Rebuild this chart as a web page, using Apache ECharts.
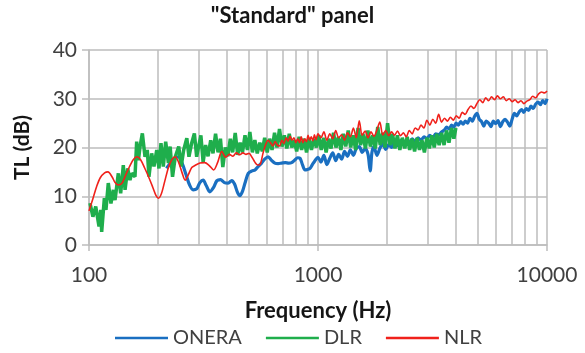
<!DOCTYPE html>
<html>
<head>
<meta charset="utf-8">
<script src="https://cdn.jsdelivr.net/npm/echarts@6/dist/echarts.min.js"></script>
<style>
  html, body { margin: 0; padding: 0; background: #ffffff; }
  #chart { width: 585px; height: 353px; }
</style>
</head>
<body>
<div id="chart"></div>
<script>
// Transmission loss of the "Standard" panel measured by three labs.
const oneraFreq = [
  218, 225, 235, 245, 255, 265, 275, 285, 295, 305, 315, 325, 337, 350, 362, 375, 390, 405, 420, 432,
  445, 456, 468, 480, 496, 515, 531, 550, 567, 585, 606, 625, 648, 670, 694, 720, 745, 767, 790, 815,
  835, 855, 877, 900, 922, 945, 970, 1000,
  1030, 1061, 1093, 1126, 1160, 1195, 1231, 1268, 1306, 1345, 1385, 1427, 1470, 1514, 1559, 1606, 1654, 1690,
  1720, 1755, 1808, 1862, 1918, 1976, 2035, 2096, 2159, 2224, 2291, 2360, 2430, 2503, 2578, 2656, 2735, 2817,
  2902, 2989, 3079, 3171, 3266, 3364, 3465,
  3566, 3650, 3740, 3830, 3920, 4010, 4100, 4200, 4300, 4400, 4500, 4610, 4720, 4830, 4940, 5060, 5180, 5300,
  5430, 5560, 5690, 5830, 5970, 6110, 6260, 6410, 6560, 6720, 6880, 7040, 7210, 7380, 7560, 7740, 7920, 8110,
  8310, 8510, 8710, 8920, 9140, 9360, 9580, 9810, 10000
];
const oneraTL = [
  15.7, 16.6, 17.6, 18.1, 16.8, 14.5, 12.3, 11.3, 11.5, 12.8, 13.3, 12.2, 10.9, 11.8, 13.2, 13.4, 12.8, 12.7, 13.2, 12.5,
  10.8, 10.1, 11.0, 12.7, 14.7, 15.2, 15.4, 16.2, 16.8, 17.6, 18.1, 17.4, 16.8, 16.7, 16.8, 16.9, 16.8, 16.9, 17.4, 17.9,
  17.8, 16.5, 15.4, 15.5, 15.7, 16.5, 17.3, 18.0,
  17.0, 18.4, 16.5, 17.8, 18.9, 17.3, 18.6, 17.6, 19.2, 18.2, 19.5, 18.4, 19.8, 20.2, 19.0, 19.8, 18.6, 15.2,
  19.0, 20.2, 18.4, 19.8, 20.8, 19.6, 20.6, 20.0, 21.2, 20.4, 21.4, 20.8, 21.5, 21.0, 21.8, 21.2, 22.0, 21.5,
  22.2, 21.8, 22.5, 22.0, 22.8, 22.6, 23.2,
  23.6, 24.2, 23.8, 24.6, 24.2, 25.0, 24.6, 25.3, 24.8, 25.4, 25.0, 26.0, 25.4, 26.4, 27.0, 25.8, 25.3, 24.4,
  25.4, 25.0, 24.3, 25.4, 24.9, 25.5, 24.3, 25.3, 25.8, 25.2, 24.4, 25.8, 27.0, 26.5, 27.3, 27.8, 27.2, 28.0,
  27.6, 28.5, 28.0, 28.9, 29.3, 28.8, 29.6, 29.0, 30.0
];

const dlrFreq = [
  101, 104, 107, 110.6, 112.5, 113.6, 116.7, 118.6, 121.4, 124.7, 127.7, 129.9, 134.3, 137.5, 141.2, 143.7,
  147.5, 151, 153.6, 158.8, 161.5, 164.3, 167.1, 171, 175.6, 179.7, 182.7, 187.8, 192.2, 197.6, 202.1, 206.2,
  211.1, 216.2, 222.2, 226.1, 231.6, 238.1, 246.5, 252.6, 259.1, 267.4, 273.2, 280.7, 288.5, 295.2,
  300, 308, 315, 323, 331, 340, 348, 357, 366, 375, 384, 394, 404, 414, 424, 435, 446, 457, 468, 480,
  492, 504, 517, 530, 543, 557, 571, 585, 600, 615, 630, 646, 662, 679, 696, 713, 731, 749, 768, 787,
  807, 827, 848, 869, 891, 913, 936, 960, 984,
  1008, 1033, 1059, 1085, 1112, 1140, 1169, 1198, 1228, 1259, 1290, 1322, 1355, 1389, 1424, 1460, 1496, 1534,
  1572, 1611, 1652, 1693, 1735, 1779, 1823, 1869, 1916, 1964, 2013, 2063, 2115, 2168, 2222, 2277, 2334, 2393,
  2452, 2514, 2577, 2641, 2707, 2775, 2844, 2915, 2988, 3063, 3140, 3218, 3299, 3381, 3466, 3552, 3641, 3732,
  3826, 3921, 4000
];
const dlrTL = [
  8.6, 5.8, 7.9, 3.8, 7.2, 2.7, 9.6, 7.2, 12.7, 8.5, 11.3, 9.2, 14.7, 10.6, 16.4, 11.3,
  15.7, 13.3, 14.7, 14.0, 21.2, 17.4, 20.2, 22.9, 18.1, 19.5, 14.0, 18.8, 16.1, 19.5, 15.7, 20.9,
  16.1, 21.2, 16.8, 20.2, 14.0, 18.1, 20.2, 16.1, 19.5, 21.9, 18.1, 20.9, 22.9, 18.1,
  18.5, 22.5, 17.0, 20.5, 18.2, 21.5, 18.8, 22.8, 19.0, 21.8, 16.0, 20.0, 18.2, 21.8, 19.0, 23.0, 18.5, 21.0, 19.0, 22.5,
  19.5, 23.2, 19.0, 21.5, 18.8, 21.0, 19.2, 22.0, 19.0, 21.8, 19.5, 23.0, 20.0, 23.8, 20.2, 22.5, 19.8, 22.8, 20.0, 21.5,
  19.2, 22.2, 19.5, 21.8, 19.0, 22.0, 19.5, 21.8, 20.0,
  22.5, 19.5, 22.0, 19.0, 21.8, 19.8, 23.0, 20.0, 22.2, 19.5, 22.8, 20.2, 23.5, 20.0, 22.5, 19.5, 24.0, 20.5,
  22.8, 19.8, 23.5, 20.2, 22.5, 19.8, 24.2, 20.5, 23.0, 20.0, 25.0, 20.5, 22.8, 19.8, 22.5, 19.5, 22.0, 19.8,
  22.2, 19.5, 21.8, 19.2, 22.0, 19.5, 21.5, 19.0, 22.0, 19.8, 22.5, 20.0, 22.8, 20.5, 23.0, 20.5, 23.5, 21.0,
  24.0, 21.8, 24.0
];

const nlrFreq = [
  100, 104, 108, 112, 117, 121, 126, 130, 134, 139, 145, 150, 156, 162, 168, 175, 182, 190, 196, 201,
  207, 214, 222, 230, 238, 246, 255, 263, 272, 281,
  290, 305, 320, 335, 350, 365, 380, 395, 410, 425, 440, 455, 470, 485, 500, 515, 530, 545, 560, 575,
  590, 605, 620, 635, 650, 665, 680, 695, 710, 725, 740, 755, 770, 785, 800, 815, 830, 845, 860, 875,
  890, 905, 920, 935, 950, 965, 980, 1000,
  1030, 1061, 1093, 1126, 1160, 1195, 1231, 1268, 1306, 1345, 1385, 1427, 1470, 1514, 1559, 1606, 1654, 1704,
  1755, 1808, 1862, 1918, 1976, 2035, 2096, 2159, 2224, 2291, 2360, 2430, 2503, 2578, 2656, 2735, 2817, 2902,
  2989, 3079, 3171, 3266, 3364, 3465, 3569, 3676, 3787, 3900, 4017, 4138, 4262, 4390, 4521, 4657, 4797, 4941,
  5089, 5242, 5399, 5561, 5728, 5900, 6077, 6259, 6447, 6640, 6840, 7045, 7256, 7474, 7698, 7929, 8167, 8412,
  8664, 8924, 9192, 9468, 9752, 10000
];
const nlrTL = [
  7.0, 9.5, 12.0, 13.8, 14.8, 15.0, 14.0, 12.8, 12.3, 12.6, 14.5, 16.0, 17.5, 18.1, 17.5, 15.8, 14.0, 11.8, 10.2, 9.6,
  10.5, 13.0, 15.8, 17.5, 18.1, 17.0, 14.8, 13.3, 14.5, 15.9,
  16.3, 16.8, 16.9, 16.3, 15.4, 17.0, 19.2, 18.0, 18.6, 18.2, 18.9, 18.5, 18.9, 18.6, 18.8, 18.0, 17.0, 16.4, 16.6, 18.8,
  20.5, 21.5, 21.0, 20.3, 21.2, 20.5, 20.3, 21.5, 20.8, 22.0, 21.3, 22.3, 21.5, 22.0, 21.0, 21.8, 21.0, 22.2, 21.0, 21.8,
  21.2, 22.5, 21.5, 22.2, 21.4, 22.6, 21.6, 22.8,
  22.0, 23.2, 21.5, 22.8, 21.8, 23.5, 22.0, 22.6, 21.5, 23.0, 22.2, 24.0, 22.0, 25.5, 22.5, 23.4, 22.0, 23.2,
  22.3, 23.6, 25.2, 22.6, 23.5, 22.4, 23.2, 22.5, 23.4, 22.4, 23.0, 22.2, 23.5, 22.8, 24.0, 23.6, 24.6, 24.0,
  25.6, 24.6, 25.8, 25.0, 26.8, 25.2, 26.0, 25.4, 26.2, 25.6, 26.5, 26.0, 27.2, 26.8, 27.8, 28.5, 28.0, 29.0,
  29.8, 29.2, 30.2, 29.6, 30.4, 29.8, 30.6, 30.0, 30.4, 29.6, 30.0, 29.4, 29.8, 29.2, 29.6, 29.0, 29.5, 29.8,
  30.5, 30.2, 31.0, 31.4, 31.2, 31.6
];

// Intermediate frequencies that get their own grid lines on the log axis
const minorGridFreq = [200, 300, 400, 500, 600, 700, 800, 900, 2000, 3000, 4000, 5000, 6000, 7000, 8000, 9000];

const gridColor = '#bdbdbd';
const labelColor = '#404040';
const titleColor = '#151515';
const fontFamily = 'Lato, "Open Sans", sans-serif';

function pairs(xs, ys) {
  return xs.map((x, i) => [x, ys[i]]);
}

const chart = echarts.init(document.getElementById('chart'), null, { renderer: 'canvas' });

chart.setOption({
  animation: false,
  backgroundColor: '#ffffff',
  textStyle: { fontFamily: fontFamily },
  title: {
    text: '"Standard" panel',
    left: 'center',
    top: 5,
    padding: 0,
    textStyle: { fontSize: 22, fontWeight: 'bold', color: titleColor, fontFamily: fontFamily }
  },
  legend: {
    data: ['ONERA', 'DLR', 'NLR'],
    left: 115,
    top: 328,
    padding: 0,
    icon: 'rect',
    itemWidth: 53,
    itemHeight: 2.5,
    itemGap: 24,
    textStyle: { fontSize: 20, color: labelColor, fontFamily: fontFamily }
  },
  grid: { left: 89, right: 38, top: 50, bottom: 108, containLabel: false },
  xAxis: {
    type: 'log',
    logBase: 10,
    min: 100,
    max: 10000,
    name: 'Frequency (Hz)',
    nameLocation: 'middle',
    nameGap: 55,
    nameTextStyle: { fontSize: 22, fontWeight: 'bold', color: titleColor, fontFamily: fontFamily },
    axisLine: { show: true, lineStyle: { color: gridColor, width: 1.5 } },
    axisTick: { show: true, length: 6, lineStyle: { color: gridColor, width: 1.5 } },
    axisLabel: {
      fontSize: 21, color: labelColor, margin: 20, fontFamily: fontFamily,
      formatter: v => String(Math.round(v))
    },
    splitLine: { show: true, lineStyle: { color: gridColor, width: 1.5 } },
    minorTick: { show: false },
    minorSplitLine: { show: false }
  },
  yAxis: {
    type: 'value',
    min: 0,
    max: 40,
    interval: 10,
    name: 'TL (dB)',
    nameLocation: 'middle',
    nameRotate: 90,
    nameGap: 56,
    nameTextStyle: { fontSize: 21, fontWeight: 'bold', color: titleColor, fontFamily: fontFamily },
    axisLine: { show: true, lineStyle: { color: gridColor, width: 1.5 } },
    axisTick: { show: true, length: 7, lineStyle: { color: gridColor, width: 1.5 } },
    axisLabel: { fontSize: 21, color: labelColor, margin: 12, fontFamily: fontFamily },
    splitLine: { show: true, lineStyle: { color: gridColor, width: 1.5 } }
  },
  series: [
    {
      name: 'minor-grid',
      type: 'line',
      data: [],
      silent: true,
      markLine: {
        silent: true,
        z: 1,
        symbol: ['none', 'none'],
        label: { show: false },
        emphasis: { disabled: true },
        lineStyle: { color: gridColor, width: 1.5, type: 'solid' },
        data: minorGridFreq.map(f => ({ xAxis: f }))
      }
    },
    {
      name: 'ONERA',
      type: 'line',
      z: 3,
      data: pairs(oneraFreq, oneraTL),
      showSymbol: false,
      smooth: 0.3,
      color: '#1a6fc1',
      lineStyle: { color: '#1a6fc1', width: 3.2 }
    },
    {
      name: 'DLR',
      type: 'line',
      z: 4,
      data: pairs(dlrFreq, dlrTL),
      showSymbol: false,
      smooth: false,
      color: '#1fae4c',
      lineStyle: { color: '#1fae4c', width: 3.5 }
    },
    {
      name: 'NLR',
      type: 'line',
      z: 5,
      data: pairs(nlrFreq, nlrTL),
      showSymbol: false,
      smooth: 0.3,
      color: '#f0211b',
      lineStyle: { color: '#f0211b', width: 1.6 }
    }
  ]
});
</script>
</body>
</html>
